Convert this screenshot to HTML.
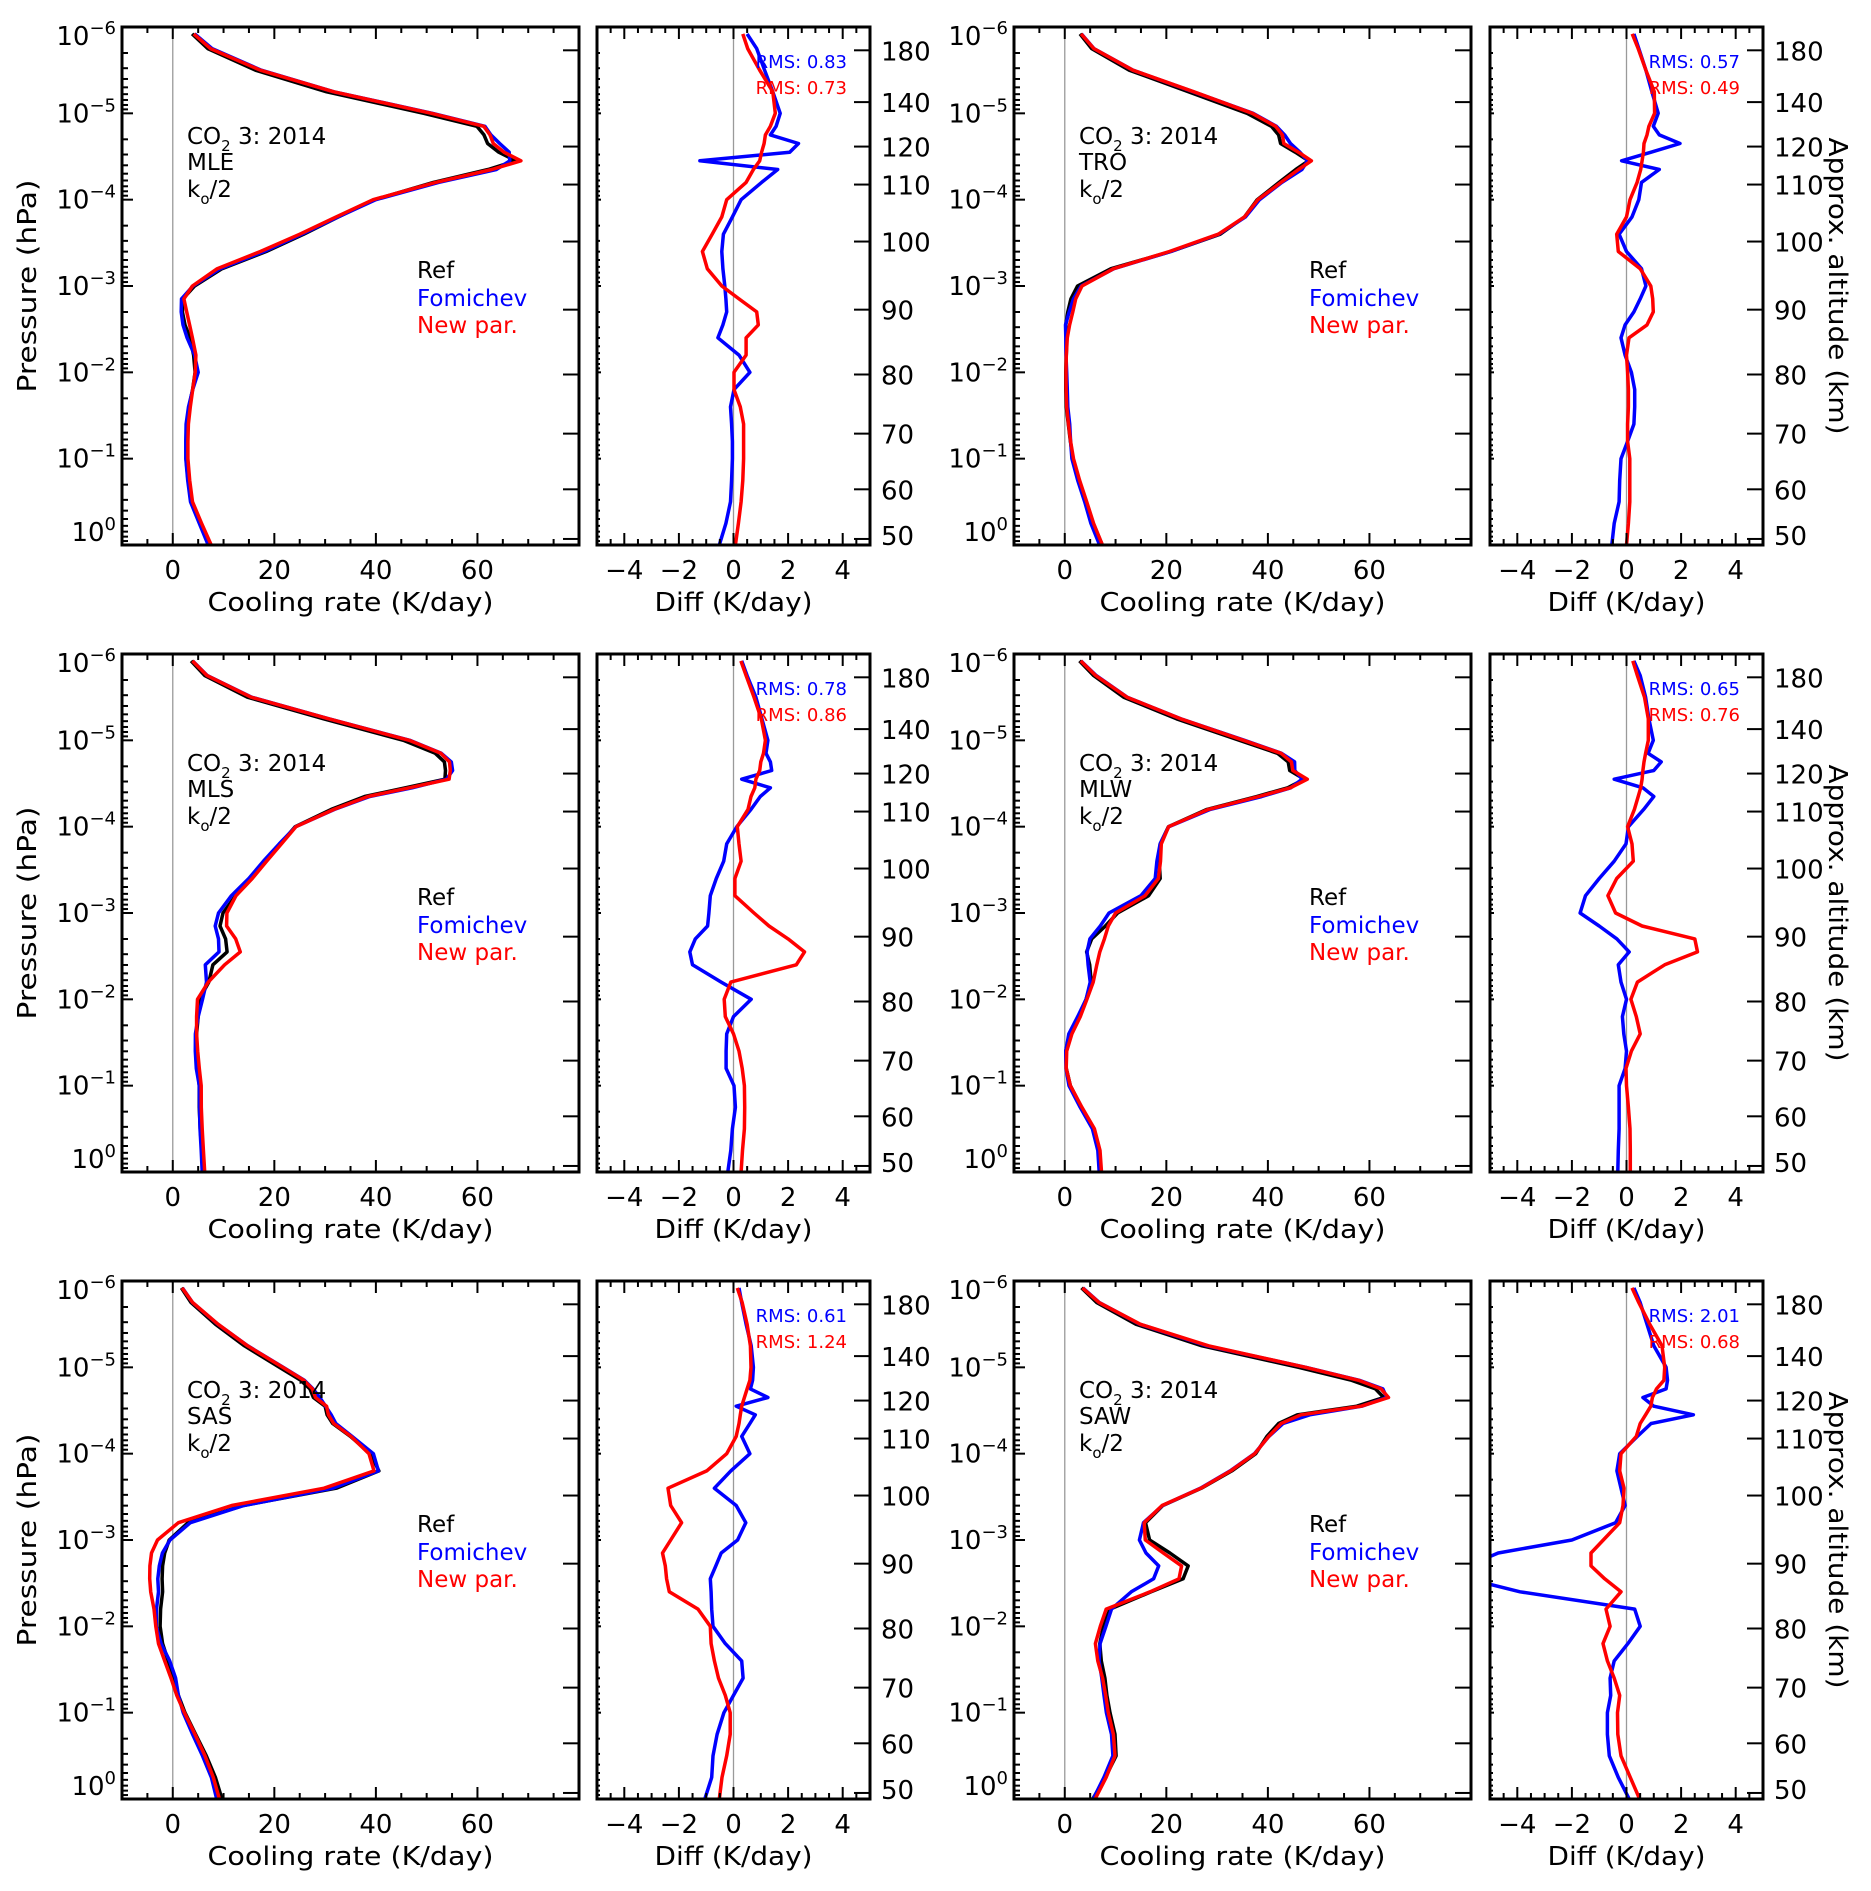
<!DOCTYPE html>
<html><head><meta charset="utf-8">
<style>
html,body{margin:0;padding:0;background:#fff;}
svg{display:block;font-family:"DejaVu Sans","Liberation Sans",sans-serif;}
</style></head>
<body>
<svg id="fig" width="1871" height="1891" viewBox="0 0 1871 1891" xmlns="http://www.w3.org/2000/svg"></svg>
<script>
// pressure levels (log10 hPa) shared by all profiles
const levels = [-5.92,-5.75,-5.5,-5.25,-5.0,-4.85,-4.75,-4.65,-4.55,-4.45,-4.35,-4.2,-4.0,-3.8,-3.6,-3.4,-3.2,-3.0,-2.85,-2.7,-2.55,-2.4,-2.2,-2.0,-1.8,-1.6,-1.4,-1.2,-1.0,-0.75,-0.5,-0.25,0.0];

const refMLE = [3.8,6.9,16.3,30.3,49.4,59.9,61.3,62.0,64.2,67.6,62.1,51.3,39.7,32.6,25.8,18.4,9.7,4.3,2.0,1.9,2.4,3.4,4.1,4.4,3.9,3.2,2.7,2.6,2.6,3.0,3.6,5.5,7.5];
const fomMLE = [0.50,0.85,1.14,1.44,1.71,1.56,1.35,2.38,2.06,-1.23,1.62,1.03,0.28,-0.04,-0.37,-0.43,-0.39,-0.32,-0.28,-0.25,-0.39,-0.57,0.20,0.60,0.02,-0.11,-0.07,-0.04,-0.04,-0.07,-0.11,-0.28,-0.52];
const newMLE = [0.34,0.52,0.96,1.44,1.53,1.35,1.17,1.12,1.03,0.96,0.73,0.46,-0.25,-0.43,-0.78,-1.14,-0.96,-0.43,0.20,0.85,0.91,0.46,0.46,0.02,0.02,0.25,0.37,0.37,0.37,0.34,0.28,0.18,0.07];

const refTRO = [3.0,5.3,12.7,24.4,35.9,40.7,42.1,42.5,45.4,48.0,45.5,42.2,37.9,35.4,30.6,20.9,9.1,2.5,1.2,0.6,0.2,0.4,0.3,0.2,0.2,0.3,0.7,1.1,1.6,2.8,4.2,5.6,7.4];
const fomTRO = [0.27,0.45,0.71,0.93,1.16,0.98,1.2,1.96,0.9,-0.18,1.2,0.55,0.45,0.2,-0.27,0,0.55,0.71,0.5,0.27,-0.05,-0.2,-0.05,0.18,0.3,0.3,0.27,0.04,-0.2,-0.25,-0.27,-0.45,-0.54];
const newTRO = [0.21,0.43,0.71,1.02,1.03,0.82,0.75,0.64,0.62,0.57,0.52,0.39,0.13,0,-0.36,-0.30,0.50,0.89,0.96,0.98,0.75,0.09,0,0.04,0.07,0.07,0.04,0.04,0.12,0.12,0.12,0.07,0];

const refMLS = [3.6,6.3,14.7,29.7,45.4,51.7,53.5,53.7,53.6,45.8,37.8,31.2,24.1,21.2,18.2,15.6,12.4,9.9,9.3,10.4,10.7,7.9,7.1,5.2,5.0,4.7,4.7,4.9,5.2,5.2,5.4,5.7,6.0];
const fomMLS = [0.3,0.5,0.82,1.04,1.26,1.19,1.35,1.4,0.3,1.35,0.98,0.64,0.12,-0.25,-0.36,-0.63,-0.85,-0.9,-0.95,-1.4,-1.6,-1.5,-0.45,0.65,0,-0.25,-0.27,-0.27,0.02,0.07,-0.04,-0.1,-0.21];
const newMLS = [0.27,0.46,0.75,1.02,1.17,1.1,1.0,0.96,0.82,0.78,0.64,0.53,0.14,0.2,0.28,0.05,0.05,0.75,1.3,2.0,2.6,2.3,-0.1,-0.34,-0.3,0,0.2,0.32,0.4,0.41,0.4,0.33,0.28];

const refMLW = [2.9,5.7,11.6,22.0,34.4,41.9,44.0,44.3,47.2,43.9,37.8,28.0,20.4,18.8,18.6,18.8,16.5,10.4,8.0,5.3,4.3,4.9,5.2,4.2,2.7,0.9,0.2,0.3,1.1,3.3,5.7,6.8,7.1];
const fomMLW = [0.27,0.5,0.7,0.82,0.98,0.79,1.27,1.0,-0.45,0.6,1.0,0.63,0.07,-0.02,-0.45,-1.0,-1.5,-1.7,-1.0,-0.35,0.1,-0.3,-0.2,0,-0.15,-0.1,0,-0.05,-0.27,-0.27,-0.27,-0.3,-0.32];
const newMLW = [0.23,0.4,0.66,0.8,0.8,0.7,0.64,0.6,0.57,0.52,0.43,0.29,0.04,0.2,0.25,-0.36,-0.68,-0.4,0.57,2.5,2.6,1.4,0.4,0.16,0.36,0.5,0.18,-0.02,0,0.07,0.13,0.14,0.14];

const refSAS = [1.7,3.6,8.4,14.1,21.0,25.2,27.0,27.7,30.0,30.4,31.5,35.0,38.9,40.6,32.2,13.9,3.0,-0.7,-1.6,-2.0,-2.1,-2.0,-2.4,-2.5,-2.0,-0.9,0.2,1.1,2.4,4.5,6.6,8.4,9.7];
const fomSAS = [0.2,0.3,0.46,0.65,0.73,0.7,0.62,1.26,0.1,0.8,0.6,0.3,0.6,-0.1,-0.7,0.1,0.45,0.15,-0.45,-0.65,-0.85,-0.82,-0.8,-0.75,-0.3,0.3,0.35,0,-0.35,-0.6,-0.75,-0.8,-1.05];
const newSAS = [0.14,0.32,0.5,0.62,0.64,0.6,0.5,0.4,0.3,0.25,0.2,0.1,-0.25,-0.98,-2.4,-2.3,-1.9,-2.3,-2.6,-2.5,-2.45,-2.35,-1.3,-0.85,-0.82,-0.7,-0.55,-0.3,-0.12,-0.12,-0.25,-0.42,-0.52];

const refSAW = [3.3,6.3,14.0,27.0,46.0,56.5,61.2,62.8,57.5,45.8,42.1,39.8,37.6,32.9,26.9,19.3,15.9,16.7,20.7,24.3,23.3,17.0,8.9,7.6,6.9,7.2,7.9,8.3,8.9,9.9,10.1,8.0,5.5];
const fomSAW = [0.27,0.5,0.75,1.0,1.45,1.5,1.45,0.6,1.0,2.45,0.9,0.4,-0.25,-0.35,-0.2,-0.05,-0.4,-2.0,-4.7,-5.8,-5.8,-3.9,0.3,0.5,0.05,-0.45,-0.6,-0.58,-0.7,-0.7,-0.63,-0.3,0.1];
const newSAW = [0.2,0.45,0.85,1.3,1.4,1.37,1.1,0.95,0.89,0.7,0.5,0.36,-0.2,-0.25,-0.09,-0.13,-0.25,-0.85,-1.3,-1.3,-0.8,-0.2,-0.75,-0.6,-0.86,-0.7,-0.45,-0.25,-0.33,-0.32,-0.2,0.14,0.48];

const profileNames = ["MLE","TRO","MLS","MLW","SAS","SAW"];
const rmsFom = ["0.83","0.57","0.78","0.65","0.61","2.01"];
const rmsNew = ["0.73","0.49","0.86","0.76","1.24","0.68"];
const mainTicks = [0,20,40,60];
const diffTicks = [-4,-2,0,2,4];
const altLabels = [180,140,120,110,100,90,80,70,60,50];
const altLogP = [-5.73,-5.13,-4.615,-4.175,-3.515,-2.726,-1.975,-1.29,-0.645,-0.07];

const refs=[refMLE,refTRO,refMLS,refMLW,refSAS,refSAW];
const foms=[fomMLE,fomTRO,fomMLS,fomMLW,fomSAS,fomSAW];
const news=[newMLE,newTRO,newMLS,newMLW,newSAS,newSAW];

const NS="http://www.w3.org/2000/svg";
const svg=document.getElementById('fig');
function mk(tag,attrs,parent){const e=document.createElementNS(NS,tag);for(const k in attrs)e.setAttribute(k,attrs[k]);(parent||svg).appendChild(e);return e;}

const rowTop=[27,654,1281], PH=518;
const colMain=[[122,579],[1014,1471]], colDiff=[[597,870],[1490,1763]];
const FS=26;

for(let p=0;p<6;p++){
  const r=Math.floor(p/2), c=p%2, top=rowTop[r], bot=top+PH;
  const [mL,mR]=colMain[c], [dL,dR]=colDiff[c];
  const yP=lp=>top+(lp+6)/6*PH;
  const xM=v=>mL+(v+10)/90*(mR-mL);
  const xD=v=>dL+(v+5)/10*(dR-dL);
  const g=mk('g',{});
  
  
  const clip=mk('clipPath',{id:'cm'+p},g); mk('rect',{x:mL,y:top,width:mR-mL,height:PH},clip);
  const clip2=mk('clipPath',{id:'cd'+p},g); mk('rect',{x:dL,y:top,width:dR-dL,height:PH},clip2);

  // zero lines
  mk('line',{x1:xM(0),x2:xM(0),y1:top,y2:bot,stroke:'#9a9a9a','stroke-width':1.3},g);
  mk('line',{x1:xD(0),x2:xD(0),y1:top,y2:bot,stroke:'#9a9a9a','stroke-width':1.3},g);

  const path=(vals,xf)=>vals.map((v,i)=>(i?'L':'M')+xf(v).toFixed(1)+','+yP(levels[i]).toFixed(1)).join('');
  const ref=refs[p], df=foms[p], dn=news[p];
  const fomMain=ref.map((v,i)=>v+df[i]), newMain=ref.map((v,i)=>v+dn[i]);
  const lr=mk('path',{d:path(ref,xM),fill:'none',stroke:'#000','stroke-width':3.5,'clip-path':'url(#cm'+p+')','stroke-linejoin':'round'},g);
  
  
  const lf=mk('path',{d:path(fomMain,xM),fill:'none',stroke:'#0000ff','stroke-width':3.5,'clip-path':'url(#cm'+p+')','stroke-linejoin':'round'},g);
  
  
  const ln=mk('path',{d:path(newMain,xM),fill:'none',stroke:'#ff0000','stroke-width':3.5,'clip-path':'url(#cm'+p+')','stroke-linejoin':'round'},g);
  
  
  const ldf=mk('path',{d:path(df,xD),fill:'none',stroke:'#0000ff','stroke-width':3.5,'clip-path':'url(#cd'+p+')','stroke-linejoin':'round'},g);
  
  
  const ldn=mk('path',{d:path(dn,xD),fill:'none',stroke:'#ff0000','stroke-width':3.5,'clip-path':'url(#cd'+p+')','stroke-linejoin':'round'},g);
  
  

  // frames
  mk('rect',{x:mL,y:top,width:mR-mL,height:PH,fill:'none',stroke:'#000','stroke-width':3},g);
  mk('rect',{x:dL,y:top,width:dR-dL,height:PH,fill:'none',stroke:'#000','stroke-width':3},g);

  // x ticks main
  for(let v=-10;v<=80;v+=5){const x=xM(v);const L=(v%20===0)?12:6;
    mk('line',{x1:x,x2:x,y1:bot,y2:bot-L,stroke:'#000','stroke-width':2},g);
    mk('line',{x1:x,x2:x,y1:top,y2:top+L,stroke:'#000','stroke-width':2},g);}
  mainTicks.forEach(v=>{const t=mk('text',{x:xM(v),y:bot+34,'text-anchor':'middle','font-size':FS},g);t.textContent=v;});
  // x ticks diff
  for(let v=-5;v<=5.001;v+=0.5){const x=xD(v);const L=(Math.abs(Math.round(v)-v)<1e-6 && Math.round(v)%2===0)?12:6;
    mk('line',{x1:x,x2:x,y1:bot,y2:bot-L,stroke:'#000','stroke-width':2},g);
    mk('line',{x1:x,x2:x,y1:top,y2:top+L,stroke:'#000','stroke-width':2},g);}
  diffTicks.forEach(v=>{const t=mk('text',{x:xD(v),y:bot+34,'text-anchor':'middle','font-size':FS},g);t.textContent=(v<0?'\u2212':'')+Math.abs(v);});
  // titles
  let t=mk('text',{x:(mL+mR)/2,y:bot+66,'text-anchor':'middle','font-size':FS,textLength:286,lengthAdjust:'spacingAndGlyphs'},g);
  t.textContent='Cooling rate (K/day)';
  
  
  t=mk('text',{x:(dL+dR)/2,y:bot+66,'text-anchor':'middle','font-size':FS,textLength:158,lengthAdjust:'spacingAndGlyphs'},g);
  t.textContent='Diff (K/day)';
  
  

  // log y ticks
  for(let d=-6;d<=0;d++){
    const y=yP(d);
    mk('line',{x1:mL,x2:mL+11,y1:y,y2:y,stroke:'#000','stroke-width':2},g);
    mk('line',{x1:dL,x2:dL+4,y1:y,y2:y,stroke:'#000','stroke-width':2},g);
    if(d<0) for(let m=2;m<=9;m++){const ym=yP(d+1-Math.log10(10/m)-0+0); const yy=yP(d+Math.log10(m));
      mk('line',{x1:mL,x2:mL+6,y1:yy,y2:yy,stroke:'#000','stroke-width':2},g);
      mk('line',{x1:dL,x2:dL+3,y1:yy,y2:yy,stroke:'#000','stroke-width':2},g);}
    let yl=y; if(d===-6) yl=y+9; if(d===0) yl=y-13;
    const lab=mk('text',{x:116,y:yl+9,'text-anchor':'end','font-size':FS},g);
    lab.setAttribute('x', c===0?116:1008);
    const s1=mk('tspan',{},lab); s1.textContent='10';
    const s2=mk('tspan',{dy:-11,'font-size':18},lab); s2.textContent=(d<0?'\u2212':'')+Math.abs(d);
  }
  // altitude ticks
  altLogP.forEach((lp,i)=>{const y=yP(lp);
    mk('line',{x1:mR,x2:mR-16,y1:y,y2:y,stroke:'#000','stroke-width':2},g);
    mk('line',{x1:dR,x2:dR-16,y1:y,y2:y,stroke:'#000','stroke-width':2},g);
    const tl=mk('text',{x:dR+11,y:y+10-(i===altLabels.length-1?4:0),'font-size':FS},g); tl.textContent=altLabels[i];});

  // annotation
  const ax=mL+65;
  t=mk('text',{x:ax,y:top+117,'font-size':23},g);
  
  
  let s=mk('tspan',{},t); s.textContent='CO';
  s=mk('tspan',{dy:7,'font-size':15},t); s.textContent='2';
  s=mk('tspan',{dy:-7},t); s.textContent=' 3: 2014';
  t=mk('text',{x:ax,y:top+143,'font-size':23},g); t.textContent=profileNames[p];
  
  
  t=mk('text',{x:ax,y:top+170,'font-size':23},g);
  s=mk('tspan',{},t); s.textContent='k';
  s=mk('tspan',{dy:7,'font-size':15},t); s.textContent='o';
  s=mk('tspan',{dy:-7},t); s.textContent='/2';
  // legend
  const lx=mL+295;
  [['Ref','#000',251],['Fomichev','#0000ff',279],['New par.','#ff0000',306]].forEach(([txt,col,dy])=>{
    const e=mk('text',{x:lx,y:top+dy,'font-size':23,fill:col},g); e.textContent=txt;
    
    });
  // RMS
  t=mk('text',{x:dR-23,y:top+41,'font-size':18,fill:'#0000ff','text-anchor':'end'},g); t.textContent='RMS: '+rmsFom[p];
  
  
  t=mk('text',{x:dR-23,y:top+67,'font-size':18,fill:'#ff0000','text-anchor':'end'},g); t.textContent='RMS: '+rmsNew[p];
  
  

  // y titles
  if(c===0){
    const yt=mk('text',{x:0,y:0,'font-size':FS,'text-anchor':'middle',transform:`translate(36,${top+259}) rotate(-90)`,textLength:213,lengthAdjust:'spacingAndGlyphs'},g);
    yt.textContent='Pressure (hPa)';
    
    
  } else {
    const yt=mk('text',{x:0,y:0,'font-size':FS,'text-anchor':'middle',transform:`translate(1829,${top+259}) rotate(90)`,textLength:297,lengthAdjust:'spacingAndGlyphs'},g);
    yt.textContent='Approx. altitude (km)';
    
    
  }
}
</script>
</body></html>
